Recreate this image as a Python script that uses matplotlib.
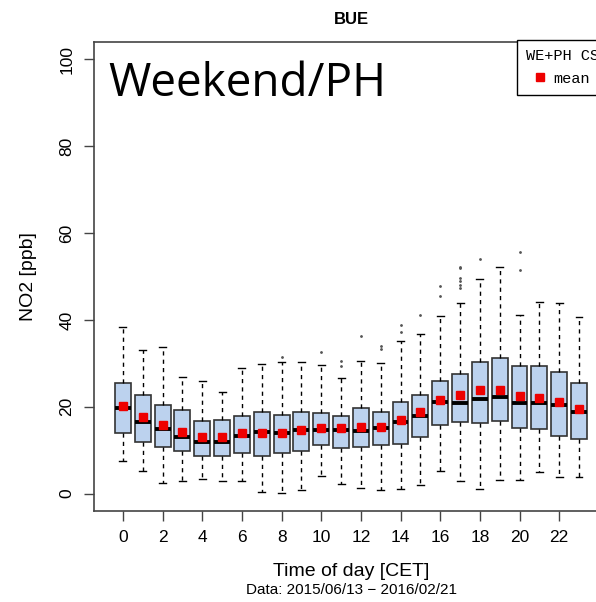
import matplotlib
matplotlib.use("Agg")
from matplotlib import pyplot as plt
from matplotlib.lines import Line2D

# hourly NO2 statistics, weekend / public holidays (ppb)
hours = list(range(24))
whislo = [7.6, 5.2, 2.5, 2.8, 3.4, 2.9, 2.9, 0.3, 0.2, 0.9, 4.0, 2.3,
          1.4, 0.8, 1.0, 2.0, 5.1, 2.9, 1.1, 3.2, 3.2, 4.9, 3.9, 3.8]
q1 = [14.0, 11.9, 10.8, 9.7, 8.7, 8.6, 9.4, 8.7, 9.3, 9.9, 11.1, 10.6,
      10.8, 11.3, 11.4, 13.1, 15.7, 16.5, 16.3, 16.8, 15.1, 14.9, 13.2, 12.6]
med = [19.8, 16.6, 14.9, 13.0, 12.0, 12.0, 13.2, 14.2, 14.0, 14.7, 14.7, 14.7,
       14.5, 15.0, 16.6, 17.8, 21.2, 20.8, 21.8, 22.3, 20.8, 20.9, 20.4, 18.9]
q3 = [25.4, 22.8, 20.5, 19.2, 16.8, 16.9, 17.8, 18.9, 18.1, 18.75, 18.6, 17.8,
      19.8, 18.9, 21.1, 22.7, 25.9, 27.5, 30.2, 31.2, 29.3, 29.3, 27.9, 25.5]
whishi = [38.3, 33.0, 33.8, 26.8, 25.9, 23.5, 29.0, 29.9, 30.4, 30.3, 29.6, 26.7,
          30.6, 30.0, 35.1, 36.7, 41.0, 43.8, 49.4, 52.2, 41.2, 44.2, 43.8, 40.6]
means = [20.1, 17.6, 15.7, 14.1, 13.0, 13.0, 14.0, 13.9, 13.9, 14.7, 15.0, 15.0,
         15.4, 15.3, 16.9, 18.7, 21.6, 22.7, 23.8, 23.8, 22.4, 22.1, 21.1, 19.5]
outliers = {
    8: [31.5], 10: [32.6], 11: [29.5, 30.5], 12: [36.3], 13: [33.2, 34.0],
    14: [37.3, 38.8], 15: [41.1], 16: [45.4, 47.7],
    17: [47.3, 48.1, 48.9, 49.7, 51.9, 52.3], 18: [54.1], 20: [51.5, 55.6],
}
xticks = list(range(0, 24, 2))

plt.rcParams['font.family'] = 'Liberation Sans'

fig = plt.figure(figsize=(5.96, 6.02), dpi=100)
ax = fig.add_axes([0.1577, 0.1512, 0.8624, 0.779])

stats = []
for i, h in enumerate(hours):
    stats.append(dict(whislo=whislo[i], q1=q1[i], med=med[i], q3=q3[i],
                      whishi=whishi[i], fliers=outliers.get(h, [])))

ax.bxp(stats, positions=hours, widths=0.8, patch_artist=True,
       boxprops=dict(facecolor="#BCD2EE", edgecolor="#333333", linewidth=1.2),
       medianprops=dict(color="black", linewidth=2.8),
       whiskerprops=dict(color="black", linewidth=1.0, linestyle=(0, (3, 3))),
       capprops=dict(color="black", linewidth=1.0),
       capwidths=0.35,
       flierprops=dict(marker="o", markersize=1.0, markerfacecolor="#555555",
                       markeredgecolor="#555555"))

ax.plot(hours, means, linestyle="none", marker="s", markersize=5.5,
        color="#EE0000", zorder=5)

ax.set_xlim(-1.46, 24.46)
ax.set_ylim(-4, 104)
ax.set_xticks(xticks)
ax.set_xticklabels([str(t) for t in xticks])
ax.set_yticks([0, 20, 40, 60, 80, 100])
ax.set_yticklabels(["0", "20", "40", "60", "80", "100"], rotation=90, va="center")
ax.tick_params(axis="both", labelsize=12.5, length=7, width=1, color="#444444", pad=7)
for s in ax.spines.values():
    s.set_color("#444444")
    s.set_linewidth(1.2)

ax.set_ylabel("NO2 [ppb]", fontsize=14, labelpad=16)
ax.set_xlabel("Time of day [CET]", fontsize=14, labelpad=13)
fig.text(351 / 596, 1 - 590 / 602, "Data: 2015/06/13 \u2212 2016/02/21",
         ha="center", va="center", fontsize=11)
fig.text(351 / 596, 1 - 19 / 602, "BUE", ha="center", va="center",
         fontsize=12, fontweight="bold")

ax.text(0.027, 0.885, "Weekend/PH", transform=ax.transAxes, ha="left",
        va="baseline", fontsize=33, family="Open Sans")

mean_handle = Line2D([], [], linestyle="none", marker="s", markersize=5.5, color="#EE0000")
leg = ax.legend(handles=[mean_handle], labels=["mean"], title="WE+PH CSIRO",
                loc="upper left", bbox_to_anchor=(0.823, 1.004), borderaxespad=0,
                prop={"family": "Liberation Mono", "size": 11},
                title_fontproperties={"family": "Liberation Mono", "size": 11},
                fancybox=False, framealpha=1, edgecolor="black",
                handlelength=1.87, handletextpad=-0.085, borderpad=0.6,
                labelspacing=0.55)
leg._legend_box.align = "left"
leg.get_frame().set_linewidth(1.0)

plt.savefig("out.png", dpi=100)
